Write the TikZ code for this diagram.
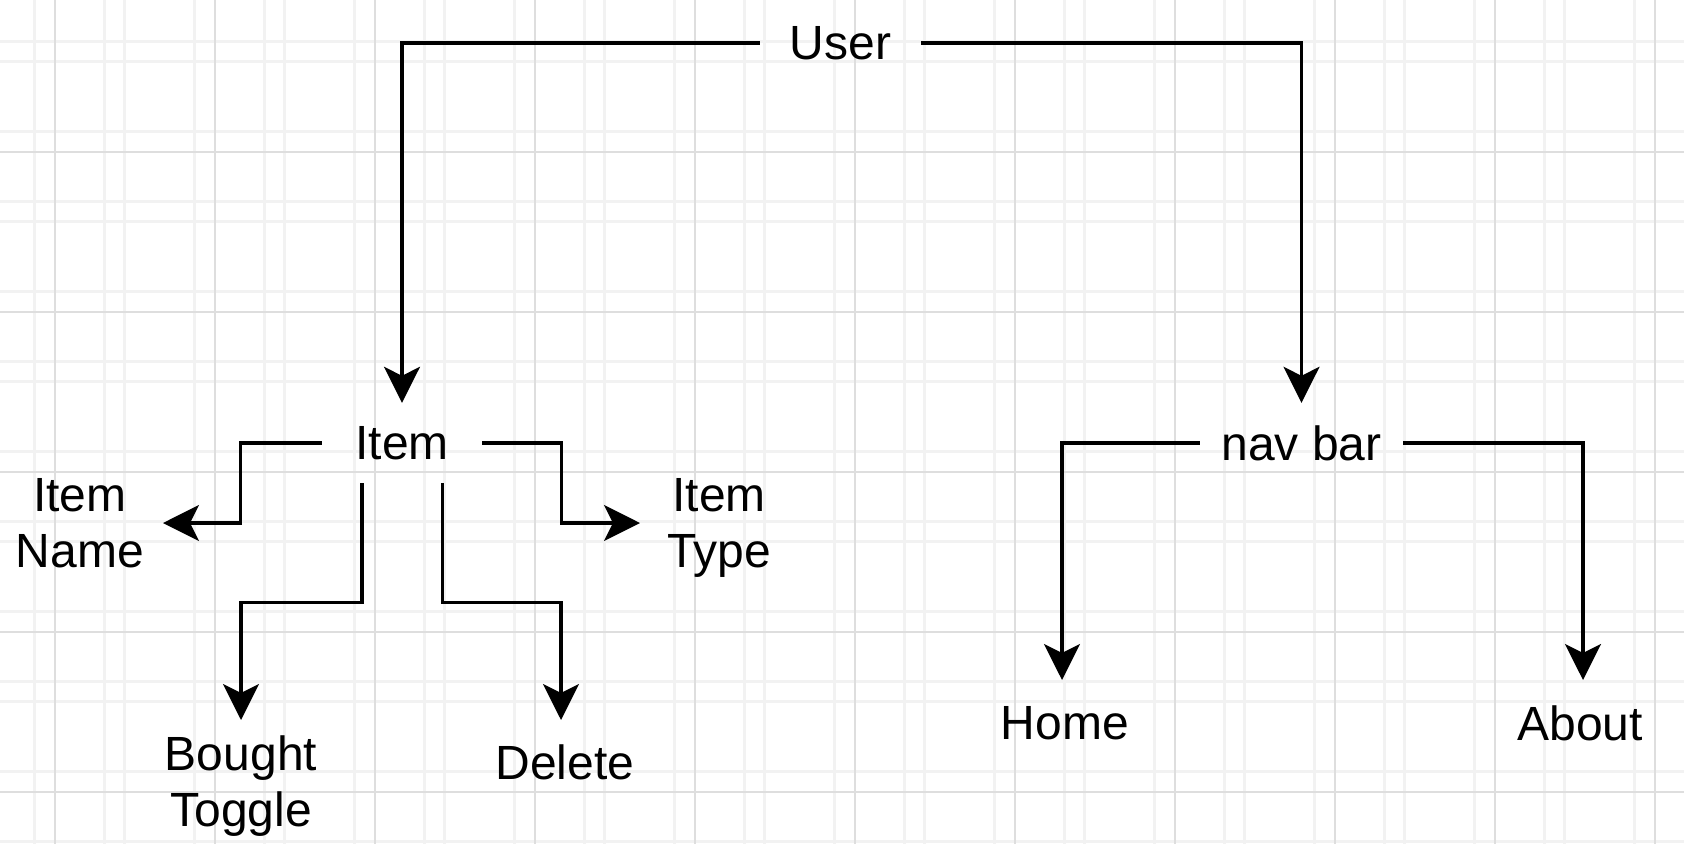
\documentclass[tikz,border=0pt]{standalone}
\usepackage{fontspec}
\setmainfont{Liberation Sans}
\usetikzlibrary{arrows.meta,calc}
\newcommand{\diafont}{\fontsize{48}{56}\selectfont}
\begin{document}
\begin{tikzpicture}[x=1pt,y=-1pt,
  majorgrid/.style={draw=black!13, line width=2pt},
  minorgrid/.style={draw=black!5, line width=3pt},
  box/.style={font=\diafont, minimum height=80pt, inner sep=0pt},
  lbl/.style={font=\diafont, align=center, inner sep=0pt},
  arr/.style={-{Stealth[length=36pt,width=36pt,inset=9pt]}, line width=3.2pt, draw=black}]
\useasboundingbox (0,0) rectangle (1684,844);
\fill[white] (0,0) rectangle (1684,844);
% grid
\foreach \m in {-105,55,...,1655} {
  \foreach \o in {49,69,139} {
    \draw[minorgrid] (\m+\o,0) -- (\m+\o,844);
  }
}
\foreach \m in {-8,152,...,792} {
  \foreach \o in {49,69,139} {
    \draw[minorgrid] (0,\m+\o) -- (1684,\m+\o);
  }
}
\foreach \m in {55,215,...,1655} \draw[majorgrid] (\m,0) -- (\m,844);
\foreach \m in {152,312,...,792} \draw[majorgrid] (0,\m) -- (1684,\m);
% nodes
\node[box, minimum width=161pt] (user) at (840.5,43) {User};
\node[box, minimum width=160pt] (item) at (402,443) {Item};
\node[box, minimum width=203pt] (nav) at (1301.5,443) {nav bar};
\node[lbl, anchor=east, inner xsep=19pt] (iname) at (163,523) {Item\\Name};
\node[lbl, anchor=west, inner xsep=27pt] (itype) at (640,523) {Item\\\smash{Type}};
\node[lbl, anchor=north, inner xsep=0pt, inner ysep=16pt] (bt) at (241,720) {Bought\\Toggle};
\node[lbl, anchor=north, inner xsep=0pt, inner ysep=25pt] (del) at (561,720) {\hspace*{8pt}Delete};
\node[lbl, anchor=north, inner xsep=0pt, inner ysep=26pt] (home) at (1062,680) {\hspace*{6pt}Home};
\node[lbl, anchor=north, inner xsep=0pt, inner ysep=26pt] (about) at (1583,680) {About\hspace*{6pt}};
% connectors
\draw[arr] (user.west) -| (item.north);
\draw[arr] (user.east) -| (nav.north);
\draw[arr] (item.west) -- ++(-81,0) |- (iname.east);
\draw[arr] (item.east) -- ++(79,0) |- (itype.west);
\draw[arr] ($(item.south west)!0.25!(item.south east)$) -- ++(0,119) -| (bt.north);
\draw[arr] ($(item.south west)!0.75!(item.south east)$) -- ++(0,119) -| (del.north);
\draw[arr] (nav.west) -| (home.north);
\draw[arr] (nav.east) -| (about.north);
\end{tikzpicture}
\end{document}
